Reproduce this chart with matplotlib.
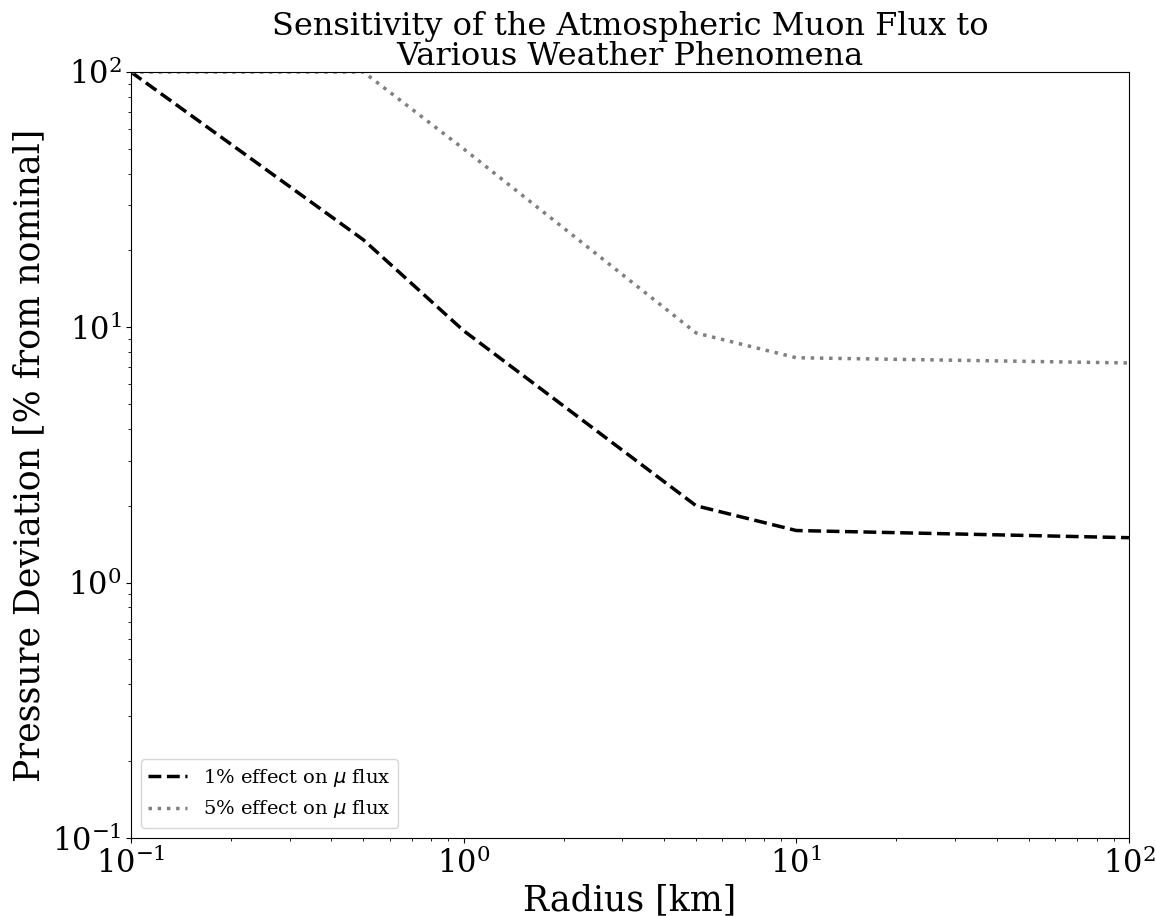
import matplotlib
matplotlib.use('Agg')
import matplotlib.pyplot as plt

# Data (radius in km, pressure deviation in %)
radius_1pct = [0.1, 0.5, 1, 5, 10, 100]
dev_1pct = [100, 22, 9.7, 2.0, 1.6, 1.5]

radius_5pct = [0.1, 0.5, 1, 5, 10, 100]
dev_5pct = [100, 100, 50, 9.5, 7.6, 7.25]

plt.rcParams['font.family'] = 'DejaVu Serif'

fig, ax = plt.subplots(figsize=(11.56, 9.16), dpi=100)
fig.subplots_adjust(left=0.1133, right=0.9766, top=0.9214, bottom=0.0852)

ax.plot(radius_1pct, dev_1pct, color='black', linestyle='--', linewidth=2.5,
        label=r'1% effect on $\mu$ flux')
ax.plot(radius_5pct, dev_5pct, color='gray', linestyle=':', linewidth=2.5,
        label=r'5% effect on $\mu$ flux')

ax.set_xscale('log')
ax.set_yscale('log')
ax.set_xlim(0.1, 100)
ax.set_ylim(0.1, 100)

ax.set_title('Sensitivity of the Atmospheric Muon Flux to\nVarious Weather Phenomena',
             fontsize=23, linespacing=0.95, pad=4)
ax.set_xlabel('Radius [km]', fontsize=25, labelpad=2)
ax.set_ylabel('Pressure Deviation [% from nominal]', fontsize=25)
ax.tick_params(axis='both', which='major', labelsize=22)

ax.legend(loc='lower left', fontsize=14)

fig.savefig('out.png', dpi=100)
